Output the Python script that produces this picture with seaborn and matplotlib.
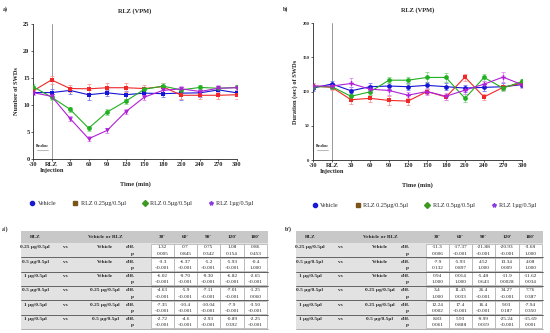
import numpy as np
import pandas as pd
import matplotlib
matplotlib.use('Agg')
import matplotlib.pyplot as plt
from matplotlib.patches import Rectangle
from matplotlib.lines import Line2D
import seaborn as sns

sns.set_style('ticks')
plt.rcParams['font.family'] = ['Liberation Serif', 'DejaVu Serif']

# ---- data ----
time_pts = [-30, 0, 30, 60, 90, 120, 150, 180, 210, 240, 270, 300]
time_labels = ['-30', 'RLZ\nInjection', '30', '60', '90', '120', '150', '180', '210', '240', '270', '300']
groups = ['Vehicle', 'RLZ 0.25µg/0.5µl', 'RLZ 0.5µg/0.5µl', 'RLZ 1µg/0.5µl']

# number of SWDs (panel a)
n_vehicle = [12.3, 12.3, 12.7, 11.9, 12.25, 11.9, 12.2, 12.1, 12.2, 12.25, 12.8, 12.25]
n_rlz025 = [12.6, 14.65, 13.05, 13.0, 13.2, 13.2, 13.05, 13.4, 11.8, 11.8, 11.8, 11.9]
n_rlz05 = [13.4, 11.45, 9.2, 5.7, 8.7, 10.7, 12.9, 13.5, 12.8, 13.25, 13.1, 13.25]
n_rlz1 = [12.3, 11.6, 7.5, 3.75, 5.3, 8.75, 11.45, 12.7, 13.0, 12.5, 13.1, 13.2]
n_err_vehicle = [0.5, 0.6, 0.6, 0.9, 0.6, 0.7, 0.6, 0.7, 1.2, 0.8, 0.7, 0.6]
n_err_rlz025 = [0.6, 0.7, 0.7, 0.8, 0.8, 0.8, 0.7, 0.7, 0.6, 0.6, 0.7, 0.7]
n_err_rlz05 = [0.5, 0.6, 0.5, 0.5, 0.5, 0.5, 0.5, 0.5, 0.5, 0.5, 0.5, 0.5]
n_err_rlz1 = [0.4, 0.5, 0.5, 0.5, 0.4, 0.5, 0.5, 0.5, 0.5, 0.5, 0.6, 0.5]

# duration (sec) of SWDs (panel b)
d_vehicle = [105, 111, 101, 107, 108, 107, 109, 107, 105, 106, 107, 110]
d_rlz025 = [108, 106, 88, 90, 87, 86, 100, 92, 121, 92, 106, 112]
d_rlz05 = [107, 107, 93, 99.5, 116.5, 116.5, 120.5, 120.5, 90, 120.5, 105, 114.6]
d_rlz1 = [108, 108, 111.7, 103.4, 101.5, 94.6, 100, 93, 102, 110.7, 121, 110]
d_err_vehicle = [4, 5, 5, 5, 5, 5, 5, 5, 5, 5, 5, 4]
d_err_rlz025 = [4, 4, 6, 5, 6, 5, 4, 4, 5, 4, 4, 4]
d_err_rlz05 = [4, 4, 5, 5, 4, 5, 8, 6, 6, 5, 4, 4]
d_err_rlz1 = [4, 4, 8, 6, 6, 5, 5, 5, 5, 5, 7, 5]

# comparison tables
cmp_rlz = ['0.25 µg/0.5µl', '0.5 µg/0.5µl', '1 µg/0.5µl', '0.5 µg/0.5µl', '1 µg/0.5µl', '1 µg/0.5µl']
cmp_ref = ['Vehicle', 'Vehicle', 'Vehicle', '0.25 µg/0.5µl', '0.25 µg/0.5µl', '0.5 µg/0.5µl']
cmp_times = ["30'", "60'", "90'", "120'", "180'"]

diff_a = [['1.32', '0.7', '0.75', '1.08', '0.86'],
          ['-3.3', '-6.37', '-5.2', '-5.93', '-0.4'],
          ['-6.02', '-9.70', '-9.30', '-6.82', '-2.65'],
          ['-4.63', '-5.9', '-7.11', '-7.01', '-1.25'],
          ['-7.35', '-10.4', '-10.04', '-7.9', '-3.50'],
          ['-2.72', '-4.6', '-2.93', '-0.89', '-2.25']]
p_a = [['0.005', '0.845', '0.342', '0.154', '0.453'],
       ['<0.001', '<0.001', '<0.001', '<0.001', '1.000'],
       ['<0.001', '<0.001', '<0.001', '<0.001', '<0.001'],
       ['<0.001', '<0.001', '<0.001', '<0.001', '0.060'],
       ['<0.001', '<0.001', '<0.001', '<0.001', '<0.001'],
       ['<0.001', '<0.001', '<0.001', '0.392', '<0.001']]
diff_b = [['-11.3', '-17.37', '-21.88', '-20.93', '-3.68'],
          ['-7.9', '-5.93', '4.52', '13.34', '4.08'],
          ['0.94', '0.014', '-5.48', '-11.9', '-11.62'],
          ['3.4', '11.43', '26.4', '34.27', '7.76'],
          ['12.24', '17.4', '16.4', '9.03', '-7.94'],
          ['8.83', '5.93', '-9.99', '-25.24', '-15.69']]
p_b = [['0.006', '<0.001', '<0.001', '<0.001', '1.000'],
       ['0.132', '0.897', '1.000', '0.009', '1.000'],
       ['1.000', '1.000', '0.643', '0.0028', '0.034'],
       ['1.000', '0.033', '<0.001', '<0.001', '0.387'],
       ['0.002', '<0.001', '<0.001', '0.187', '0.350'],
       ['0.061', '0.888', '0.019', '<0.001', '0.001']]

line_colors = ['#1515d5', '#f02828', '#20b020', '#b020d8']
err_colors = ['#7a7af0', '#f59a9a', '#8ad88a', '#dd8df0']
legend_colors = ['#1a1ad0', '#7a5418', '#3c9a22', '#8a3ce0']
legend_markers = ['o', 's', 'D', '*']


def long_df(series):
    rows = []
    for g, vals in zip(groups, series):
        for t, v in zip(time_pts, vals):
            rows.append({'time': t, 'value': v, 'group': g})
    return pd.DataFrame(rows)


def draw_panel(ax, series, errs, markers, msize, ylim, yticks, ylabel, tick_fs, title):
    df = long_df(series)
    pal = dict(zip(groups, line_colors))
    for g, vals, e, ec in zip(groups, series, errs, err_colors):
        ax.errorbar(time_pts, vals, yerr=e, fmt='none', ecolor=ec, elinewidth=0.6,
                    capsize=1.5, capthick=0.6, zorder=2)
    sns.lineplot(data=df, x='time', y='value', hue='group', style='group',
                 markers=dict(zip(groups, markers)), dashes=False, palette=pal,
                 markersize=msize, markeredgewidth=0, linewidth=0.8,
                 legend=False, ax=ax, zorder=3)
    ax.axvline(0, color='#888888', lw=0.6, zorder=1)
    ax.set_xlim(-30, 300)
    ax.set_ylim(*ylim)
    ax.set_xticks(time_pts)
    ax.set_xticklabels(time_labels, fontsize=4.6, fontweight='bold')
    ax.set_yticks(yticks)
    ax.set_yticklabels([str(v) for v in yticks], fontsize=tick_fs, fontweight='bold')
    ax.tick_params(length=1.5, width=0.5, pad=1)
    for s in ['top', 'right']:
        ax.spines[s].set_visible(False)
    for s in ['left', 'bottom']:
        ax.spines[s].set_linewidth(0.6)
    ax.set_xlabel('Time (min)', fontsize=4.6, fontweight='bold', labelpad=6)
    ax.set_ylabel(ylabel, fontsize=4.6, fontweight='bold', labelpad=3)
    ax.set_title(title, fontsize=4.6, fontweight='bold', pad=8)
    ax.text(-15, ylim[1] * 0.085, 'Baseline', fontsize=2.6, fontweight='bold',
            ha='center', va='bottom')
    ax.plot([-24, -6], [ylim[1] * 0.07] * 2, color='#999999', lw=0.5)
    handles = [Line2D([], [], ls='none', marker=m, color=c, markersize=3)
               for m, c in zip(legend_markers, legend_colors)]
    ax.legend(handles, groups, loc='upper center', bbox_to_anchor=(0.53, -0.27),
              ncol=4, frameon=False, fontsize=4.4, handletextpad=0.3,
              columnspacing=2.5, handlelength=1.2)


fig = plt.figure(figsize=(5.5, 3.33), dpi=100)
axA = fig.add_axes([33 / 550, 1 - 159 / 333, 204 / 550, 135 / 333])
axB = fig.add_axes([313 / 550, 1 - 160 / 333, 209 / 550, 137 / 333])

draw_panel(axA, [n_vehicle, n_rlz025, n_rlz05, n_rlz1],
           [n_err_vehicle, n_err_rlz025, n_err_rlz05, n_err_rlz1],
           ['s', 's', 'o', 'v'], 3.4, (0, 25), [0, 5, 10, 15, 20, 25],
           'Number of SWDs', 4.6, 'RLZ (VPM)')
draw_panel(axB, [d_vehicle, d_rlz025, d_rlz05, d_rlz1],
           [d_err_vehicle, d_err_rlz025, d_err_rlz05, d_err_rlz1],
           ['o', 's', 'o', 'P'], 3.4, (0, 200), [0, 50, 100, 150, 200],
           'Duration (sec) of SWDs', 3.3, 'RLZ (VPM)')

# overlay in pixel coordinates for tags and tables
ov = fig.add_axes([0, 0, 1, 1])
ov.set_xlim(0, 550)
ov.set_ylim(333, 0)
ov.axis('off')

for tag, x, y in [('a)', 3, 9), ('b)', 283, 9), ("a')", 2, 229), ("b')", 285, 229)]:
    ov.text(x, y, tag, fontsize=4.2, fontweight='bold', va='center')

fs = 3.8
num_edges = [151, 174, 197, 220, 244, 267]
t_left, t_right = 21, 268
h_top, h_bot, b_bot = 231, 243, 329
grp_h = (b_bot - h_bot) / len(cmp_rlz)


def draw_table(off, diffs, pvals):
    L, R = t_left + off, t_right + off
    ov.add_patch(Rectangle((L, h_top), R - L, h_bot - h_top, color='#c8c8c8', lw=0))
    ov.add_patch(Rectangle((L, h_bot), R - L, b_bot - h_bot, color='#e2e2e2', lw=0))
    hy = (h_top + h_bot) / 2
    ov.text(35 + off, hy, 'RLZ', fontsize=fs, fontweight='bold', ha='center', va='center')
    ov.text(105 + off, hy, 'Vehicle or RLZ', fontsize=fs, fontweight='bold', ha='center', va='center')
    for j, t in enumerate(cmp_times):
        xc = (num_edges[j] + num_edges[j + 1]) / 2 + off
        ov.text(xc, hy, t, fontsize=fs, fontweight='bold', ha='center', va='center')
    for i in range(len(cmp_rlz)):
        y0 = h_bot + i * grp_h
        yd, yp = y0 + grp_h * 0.3, y0 + grp_h * 0.75
        ov.text(35 + off, yd, cmp_rlz[i], fontsize=fs, fontweight='bold', ha='center', va='center')
        ov.text(65 + off, yd, 'vs', fontsize=fs, fontweight='bold', ha='center', va='center')
        ov.text(105 + off, yd, cmp_ref[i], fontsize=fs, fontweight='bold', ha='center', va='center')
        ov.text(130 + off, yd, 'diff.', fontsize=fs, fontweight='bold', ha='center', va='center')
        ov.text(132 + off, yp, 'p', fontsize=fs, fontweight='bold', ha='center', va='center')
        for j in range(len(cmp_times)):
            x0, x1 = num_edges[j] + off, num_edges[j + 1] + off
            ov.add_patch(Rectangle((x0, y0 + 0.6), x1 - x0, grp_h - 1.2, facecolor='white',
                                   edgecolor='#a0a0a0', lw=0.4))
            ov.text((x0 + x1) / 2, yd, diffs[i][j], fontsize=fs, ha='center', va='center')
            ov.text((x0 + x1) / 2, yp, pvals[i][j], fontsize=fs, ha='center', va='center')
        if i > 0:
            ov.plot([L, R], [y0, y0], color='#505050', lw=0.6)
    ov.plot([L, R], [b_bot, b_bot], color='#909090', lw=0.5)


draw_table(0, diff_a, p_a)
draw_table(275, diff_b, p_b)

fig.savefig('out.png', dpi=100)
